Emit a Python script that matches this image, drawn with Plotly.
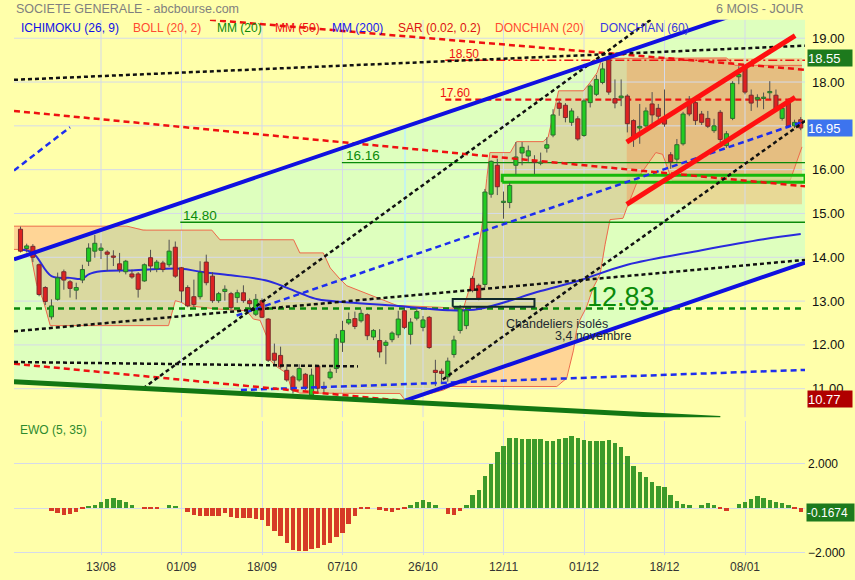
import numpy as np
import pandas as pd
import plotly.graph_objects as go

FONT = "Liberation Sans, Arial, sans-serif"

# ---------------- trading sessions (Euronext) ----------------
sessions = pd.bdate_range("2020-07-27", "2021-01-21")
sessions = sessions[~sessions.isin(pd.to_datetime(["2020-12-25", "2021-01-01"]))]
idx = np.arange(len(sessions))

tick_dates = ["2020-08-13", "2020-09-01", "2020-09-18", "2020-10-07", "2020-10-26",
              "2020-11-12", "2020-12-01", "2020-12-18", "2021-01-08"]
tick_labels = ["13/08", "01/09", "18/09", "07/10", "26/10", "12/11", "01/12", "18/12", "08/01"]

# ---------------- daily prices ----------------
opens = [14.64, 14.20, 14.25, 13.83, 13.31, 12.64, 13.04, 13.67, 13.44, 13.25,
         13.48, 13.91, 14.14, 14.16, 14.12, 14.03, 13.85, 13.67, 13.62, 13.62,
         13.46, 13.99, 13.74, 13.87, 13.83, 14.23, 13.76, 13.31, 13.10, 13.10,
         13.89, 13.57, 13.01, 13.22, 13.17, 13.08, 13.19, 13.01, 12.70, 13.01,
         12.59, 11.81, 11.76, 11.42, 11.27, 11.20, 11.33, 10.85, 11.52, 11.04,
         11.25, 11.46, 12.06, 12.50, 12.60, 12.55, 12.69, 12.18, 12.10, 11.99,
         12.12, 12.23, 12.78, 12.24, 12.61, 12.40, 12.63, 11.42, 11.40, 11.27,
         11.78, 12.33, 12.44, 13.52, 13.36, 13.38, 15.44, 16.10, 15.25, 15.25,
         16.10, 16.38, 16.31, 16.19, 16.15, 16.49, 16.79, 17.52, 17.47, 17.08,
         17.16, 16.78, 17.53, 17.72, 17.99, 18.51, 17.62, 17.64, 17.68, 17.12,
         16.95, 17.00, 17.50, 17.40, 17.19, 16.34, 16.24, 16.59, 17.55, 17.53,
         17.27, 17.17, 16.89, 17.31, 16.55, 17.17, 18.12, 18.36, 17.70, 17.61,
         17.63, 17.76, 17.70, 17.17, 17.57, 17.00, 17.14]
highs = [14.70, 14.31, 14.30, 13.86, 13.34, 13.04, 13.65, 13.72, 13.48, 13.42,
         13.83, 14.32, 14.51, 14.32, 14.16, 14.16, 14.10, 13.94, 13.72, 13.66,
         13.86, 14.17, 13.94, 13.92, 14.40, 14.36, 13.78, 13.36, 13.49, 13.91,
         14.06, 13.66, 13.21, 13.36, 13.21, 13.26, 13.36, 13.06, 13.16, 13.06,
         12.61, 12.03, 11.96, 11.56, 11.31, 11.56, 11.36, 11.46, 11.54, 11.16,
         11.46, 12.25, 12.55, 12.74, 12.76, 12.81, 12.72, 12.36, 12.36, 12.11,
         12.31, 12.78, 12.86, 12.61, 12.86, 12.66, 12.66, 11.66, 11.46, 11.71,
         12.21, 12.91, 12.81, 13.57, 13.40, 15.56, 16.21, 16.25, 15.50, 15.70,
         16.63, 16.63, 16.55, 16.33, 16.39, 16.74, 17.38, 17.57, 17.52, 17.40,
         17.22, 17.62, 17.95, 18.16, 18.44, 18.55, 18.06, 18.06, 17.72, 17.15,
         17.50, 17.42, 17.77, 17.50, 17.83, 16.40, 16.70, 17.32, 17.68, 17.58,
         17.34, 17.34, 17.16, 17.36, 16.88, 18.02, 18.36, 18.40, 17.83, 17.72,
         17.76, 18.02, 17.83, 17.45, 17.62, 17.14, 17.20]
lows = [14.11, 14.11, 13.89, 13.11, 12.91, 12.58, 13.01, 13.26, 13.08, 13.04,
        13.41, 13.80, 13.99, 13.96, 13.69, 13.80, 13.65, 13.61, 13.51, 13.08,
        13.44, 13.66, 13.66, 13.66, 13.78, 13.53, 12.97, 12.86, 12.86, 13.04,
        13.36, 12.96, 12.96, 13.01, 12.81, 12.96, 12.96, 12.86, 12.66, 12.61,
        11.61, 11.56, 11.46, 11.16, 10.89, 11.16, 10.96, 10.81, 10.91, 10.91,
        11.21, 11.36, 11.84, 12.46, 12.36, 12.51, 12.11, 12.11, 11.71, 11.56,
        12.06, 12.16, 12.36, 12.01, 12.56, 12.31, 11.91, 11.06, 11.11, 11.16,
        11.71, 12.26, 12.36, 13.20, 13.02, 13.31, 15.36, 15.42, 14.88, 15.12,
        15.89, 16.10, 16.18, 15.90, 16.10, 16.39, 16.74, 17.23, 17.08, 17.00,
        16.66, 16.75, 17.42, 17.68, 17.95, 17.71, 17.40, 17.45, 16.85, 16.52,
        16.59, 16.97, 17.04, 17.04, 16.98, 16.02, 16.18, 16.55, 17.22, 17.02,
        17.02, 16.95, 16.84, 16.63, 16.50, 17.13, 17.95, 17.72, 17.34, 17.42,
        17.38, 17.61, 17.34, 17.12, 16.95, 16.95, 16.90]
closes = [14.14, 14.26, 14.00, 13.15, 12.99, 12.89, 13.53, 13.48, 13.29, 13.31,
          13.72, 14.21, 14.32, 14.21, 14.07, 14.00, 13.72, 13.91, 13.55, 13.27,
          13.83, 13.80, 13.89, 13.72, 14.14, 13.57, 13.23, 12.89, 12.92, 13.65,
          13.42, 13.01, 13.17, 13.27, 12.85, 13.19, 13.01, 12.94, 13.04, 12.63,
          11.65, 11.65, 11.50, 11.20, 10.97, 11.46, 11.01, 11.31, 11.01, 11.01,
          11.38, 12.14, 12.33, 12.58, 12.42, 12.72, 12.21, 12.33, 11.84, 12.06,
          12.27, 12.59, 12.40, 12.52, 12.76, 12.57, 11.94, 11.37, 11.35, 11.63,
          12.11, 12.82, 12.78, 13.24, 13.07, 15.49, 16.19, 15.61, 15.28, 15.64,
          16.29, 16.51, 16.43, 16.17, 16.17, 16.57, 17.25, 17.40, 17.19, 17.34,
          16.70, 17.57, 17.91, 18.06, 18.30, 17.77, 17.52, 17.68, 17.05, 16.70,
          16.99, 17.34, 17.25, 17.22, 17.04, 16.18, 16.57, 17.27, 17.27, 17.12,
          17.08, 16.99, 17.00, 16.69, 16.82, 17.97, 18.17, 17.77, 17.52, 17.65,
          17.65, 17.78, 17.38, 17.40, 16.99, 17.08, 16.95]

# moving average, sampled sessions
ma_idx = [0, 2, 5, 8, 10, 11, 13, 18, 26, 29, 34, 40, 45, 48, 53, 61, 69, 74, 84, 90, 98, 110, 120, 126]
ma_val = [14.17, 14.10, 13.57, 13.53, 13.51, 13.61, 13.68, 13.70, 13.74, 13.67, 13.59, 13.46,
          13.19, 13.04, 12.97, 12.89, 12.79, 12.82, 13.23, 13.46, 13.83, 14.16, 14.41, 14.53]

# channel envelope (upper / lower bounds)
env_up_x = [-1.05, 17.2, 19.8, 30.9, 32.2, 44.1, 45.1, 48.9, 50.0, 51.6, 52.7, 55.4, 60.8, 67.7,
            71.5, 73.1, 74.5, 75.3, 75.8, 79.1, 80.1, 84.4, 85.2, 86.0, 86.9, 90.9, 92.0, 93.1,
            93.9, 114.0, 115.4, 126.2]
env_up_p = [14.71, 14.71, 14.62, 14.62, 14.40, 14.40, 14.10, 14.10, 13.76, 13.50, 13.35, 13.20,
            12.90, 12.86, 12.82, 13.57, 14.67, 15.80, 16.39, 16.39, 16.64, 16.64, 16.74, 17.23,
            17.80, 17.80, 17.99, 18.21, 18.54, 18.55, 18.38, 18.38]
env_lo_x = [-1.05, 1.5, 2.6, 3.7, 4.8, 23.9, 25.0, 26.0, 26.8, 31.7, 36.5, 37.6, 38.7, 39.8, 40.3,
            41.4, 43.0, 43.8, 45.1, 61.3, 62.1, 68.3, 69.4, 86.6, 88.2, 89.3, 89.8, 90.3, 91.4,
            92.5, 93.6, 94.4, 95.2, 97.3, 97.9, 100.0, 102.6, 103.7, 105.2, 124.3, 126.2]
env_lo_p = [14.18, 14.18, 13.38, 13.01, 12.44, 12.44, 13.01, 12.97, 12.90, 12.82, 12.78, 12.59,
            12.56, 12.18, 11.65, 11.50, 11.35, 10.97, 10.90, 10.89, 10.74, 10.97, 11.05, 11.05,
            11.24, 11.88, 12.33, 12.56, 12.86, 13.31, 13.61, 14.29, 14.86, 14.89, 15.12, 15.87,
            16.39, 16.35, 15.76, 15.76, 16.52]

# Elliott wave oscillator (5, 35), from session 5 onwards
ewo_start = 5
ewo = [-0.12, -0.24, -0.30, -0.27, -0.17, -0.05, 0.09, 0.14, 0.26, 0.41, 0.46, 0.38, 0.27, 0.15,
       0.00, -0.03, -0.03, -0.03, 0.00, 0.12, 0.09, 0.00, -0.17, -0.30, -0.38, -0.38, -0.38, -0.34,
       -0.24, -0.40, -0.46, -0.44, -0.44, -0.49, -0.55, -0.79, -1.02, -1.25, -1.59, -1.89, -1.91,
       -1.91, -1.86, -1.79, -1.66, -1.56, -1.31, -1.10, -0.70, -0.38, -0.05, -0.03, 0.00, -0.08,
       -0.12, -0.17, -0.09, -0.05, 0.12, 0.27, 0.38, 0.29, 0.15, 0.00, -0.26, -0.30, -0.12, 0.14,
       0.58, 0.82, 1.42, 1.98, 2.50, 2.76, 3.16, 3.16, 3.10, 3.11, 3.11, 3.08, 2.99, 3.02, 3.10,
       3.15, 3.21, 3.13, 3.05, 2.99, 2.99, 2.99, 3.04, 2.90, 2.72, 2.32, 1.88, 1.62, 1.40, 1.16,
       1.00, 0.96, 0.60, 0.32, 0.20, 0.12, 0.00, 0.12, 0.23, 0.15, -0.05, -0.14, 0.00, 0.18, 0.29,
       0.41, 0.55, 0.44, 0.35, 0.29, 0.21, 0.12, -0.06, -0.1674]

# ---------------- drawn lines: (session index, price) ----------------
channel_top = [(-1.05, 13.95), (126.69, 20.08)]
channel_bottom = [(62.1, 10.73), (126.69, 13.88)]
support_green = [(-1.05, 11.16), (113.0, 10.32)]
black_dotted = [
    [(19.8, 11.01), (103.3, 19.58)],
    [(-1.05, 12.31), (126.69, 13.94)],
    [(-1.05, 11.61), (54.5, 11.51)],
    [(-1.05, 18.05), (126.69, 18.83)],
    [(68.2, 11.21), (126.69, 17.11)],
]
red_dashed = [
    [(-1.05, 17.34), (126.69, 15.62)],
    [(-1.05, 11.57), (62.1, 10.72)],
    [(30.6, 19.42), (126.69, 18.28)],
]
blue_dashed = [
    [(-1.05, 15.98), (8.0, 16.97)],
    [(34.9, 12.67), (126.69, 17.11)],
    [(35.6, 10.97), (126.69, 11.43)],
]
red_channel = [
    [(97.9, 16.63), (125.1, 19.06)],
    [(97.9, 15.21), (125.1, 17.65)],
]
level_1760 = (68.6, 17.60)
level_1850 = (68.6, 18.50)
level_1616 = (51.9, 16.16)
level_1480 = (25.8, 14.80)
level_1283 = (-1.05, 12.83)
gap_box = (69.8, 83.0, 12.87, 13.05)
support_box = (77.8, 126.69, 15.71, 15.87)
target_zone = (97.9, 126.2, 15.21, 18.55)
marker_session = 62.1

value_tags = [(18.55, "#1D7A1D"), (16.95, "#3D74EE"), (10.77, "#B00000")]
ewo_last = -0.1674

X0, X1 = -1.05, 126.69
Y0, Y1 = 10.346, 19.42

YELLOW = "#FFFFAA"
GREEN_BG = "#DEFFBE"
ORANGE = "#FFD596"
KHAKI = "#DAD9A0"
GRID = "#D5DAEA"


def line_at(pts, x):
    (xa, ya), (xb, yb) = pts
    return ya + (yb - ya) * (np.asarray(x, dtype=float) - xa) / (xb - xa)


def seg(pts):
    return [p[0] for p in pts], [p[1] for p in pts]


fig = go.Figure()
XY = dict(xaxis="x", yaxis="y", hoverinfo="skip", showlegend=False)

# trend channel background
xs = np.linspace(X0, X1, 800)
ch_top = line_at(channel_top, xs)
ch_bot = np.maximum(line_at(support_green, xs), line_at(channel_bottom, xs))
fig.add_trace(go.Scatter(x=np.concatenate([xs, xs[::-1]]), y=np.concatenate([ch_top, ch_bot[::-1]]),
                         fill="toself", fillcolor=GREEN_BG, line=dict(width=0), mode="lines", **XY))

# envelope fill (orange), and its part inside the channel (khaki)
xd = np.unique(np.concatenate([np.linspace(env_up_x[0], env_up_x[-1], 1500), env_up_x, env_lo_x]))
eu = np.interp(xd, env_up_x, env_up_p)
el = np.interp(xd, env_lo_x, env_lo_p)
fig.add_trace(go.Scatter(x=np.concatenate([xd, xd[::-1]]), y=np.concatenate([eu, el[::-1]]),
                         fill="toself", fillcolor=ORANGE, line=dict(width=0), mode="lines", **XY))
ku = np.minimum(eu, line_at(channel_top, xd))
kl = np.maximum(el, np.maximum(line_at(support_green, xd), line_at(channel_bottom, xd)))
ku = np.maximum(ku, kl)
fig.add_trace(go.Scatter(x=np.concatenate([xd, xd[::-1]]), y=np.concatenate([ku, kl[::-1]]),
                         fill="toself", fillcolor=KHAKI, line=dict(width=0), mode="lines", **XY))

# target zone
tx0, tx1, ty0, ty1 = target_zone
fig.add_trace(go.Scatter(x=[tx0, tx1, tx1, tx0, tx0], y=[ty0, ty0, ty1, ty1, ty0], fill="toself",
                         fillcolor="rgba(255,130,60,0.30)", line=dict(width=0), mode="lines", **XY))

# grid
tick_idx = [int(np.where(sessions == pd.Timestamp(d))[0][0]) for d in tick_dates]
for t in tick_idx:
    fig.add_trace(go.Scatter(x=[t, t], y=[Y0, Y1], mode="lines", line=dict(color=GRID, width=1), **XY))
for p in range(11, 20):
    fig.add_trace(go.Scatter(x=[X0, X1], y=[p, p], mode="lines", line=dict(color=GRID, width=1), **XY))

# session marker
fig.add_trace(go.Scatter(x=[marker_session, marker_session],
                         y=[float(line_at(channel_bottom, marker_session)), float(line_at(channel_top, marker_session))],
                         mode="lines", line=dict(color="#C4F4EE", width=2), **XY))

# envelope bounds
fig.add_trace(go.Scatter(x=env_up_x, y=env_up_p, mode="lines", line=dict(color="#EC6A4C", width=1), **XY))
fig.add_trace(go.Scatter(x=env_lo_x, y=env_lo_p, mode="lines", line=dict(color="#EC6A4C", width=1), **XY))

# horizontal levels
for (lx, lv) in [level_1616, level_1480]:
    fig.add_trace(go.Scatter(x=[lx, X1], y=[lv, lv], mode="lines", line=dict(color="#0A8A0A", width=1.3), **XY))
fig.add_trace(go.Scatter(x=[level_1283[0], X1], y=[level_1283[1]] * 2, mode="lines",
                         line=dict(color="#0B880B", width=2.5, dash="6px,5px"), **XY))
fig.add_trace(go.Scatter(x=[level_1760[0], X1], y=[level_1760[1]] * 2, mode="lines",
                         line=dict(color="#EE1111", width=2.2, dash="6px,4px"), **XY))
fig.add_trace(go.Scatter(x=[level_1850[0], X1], y=[level_1850[1]] * 2, mode="lines",
                         line=dict(color="#EE1111", width=1.5, dash="9px,3px,2px,3px"), **XY))

# support box
sx0, sx1, sy0, sy1 = support_box
fig.add_trace(go.Scatter(x=[sx0, sx1, sx1, sx0, sx0], y=[sy0, sy0, sy1, sy1, sy0], fill="toself",
                         fillcolor="rgba(190,245,150,0.55)", mode="lines",
                         line=dict(color="#16B80A", width=3), **XY))

# moving average
fig.add_trace(go.Scatter(x=ma_idx, y=ma_val, mode="lines", line=dict(color="#2A2ADD", width=2, shape="spline"), **XY))

# candlesticks: wicks, then bodies (rectangles built from open/close)
HALF = 0.33
wx, wy = [], []
for i in idx:
    wx += [i, i, None]
    wy += [lows[i], highs[i], None]
fig.add_trace(go.Scatter(x=wx, y=wy, mode="lines", line=dict(color="#505050", width=1), **XY))


def bodies(up):
    bx, by = [], []
    for i in idx:
        o, c = opens[i], closes[i]
        if (c >= o) != up:
            continue
        lo, hi = min(o, c), max(o, c)
        if hi - lo < 0.03:
            mid = (hi + lo) / 2
            lo, hi = mid - 0.015, mid + 0.015
        bx += [i - HALF, i + HALF, i + HALF, i - HALF, i - HALF, None]
        by += [lo, lo, hi, hi, lo, None]
    return bx, by


bx, by = bodies(True)
fig.add_trace(go.Scatter(x=bx, y=by, mode="lines", fill="toself", fillcolor="#22CC22",
                         line=dict(color="#2E6E2E", width=1), **XY))
bx, by = bodies(False)
fig.add_trace(go.Scatter(x=bx, y=by, mode="lines", fill="toself", fillcolor="#DD2222",
                         line=dict(color="#7A2C2C", width=1), **XY))

# gap box
gx0, gx1, gy0, gy1 = gap_box
fig.add_trace(go.Scatter(x=[gx0, gx1, gx1, gx0, gx0], y=[gy0, gy0, gy1, gy1, gy0], mode="lines",
                         line=dict(color="#0F2A2A", width=2), **XY))

# dashed / dotted trend lines
for pts in blue_dashed:
    x, y = seg(pts)
    fig.add_trace(go.Scatter(x=x, y=y, mode="lines", line=dict(color="#1E2EEE", width=2.5, dash="6px,4px"), **XY))
for pts in red_dashed:
    x, y = seg(pts)
    fig.add_trace(go.Scatter(x=x, y=y, mode="lines", line=dict(color="#EE1111", width=2.5, dash="6px,4px"), **XY))
for pts in black_dotted:
    x, y = seg(pts)
    fig.add_trace(go.Scatter(x=x, y=y, mode="lines", line=dict(color="#111111", width=2.5, dash="4px,3px"), **XY))

# solid channel lines
for pts in [channel_top, channel_bottom]:
    x, y = seg(pts)
    fig.add_trace(go.Scatter(x=x, y=y, mode="lines", line=dict(color="#1010E0", width=4), **XY))
x, y = seg(support_green)
fig.add_trace(go.Scatter(x=x, y=y, mode="lines", line=dict(color="#137713", width=5), **XY))
for pts in red_channel:
    x, y = seg(pts)
    fig.add_trace(go.Scatter(x=x, y=y, mode="lines", line=dict(color="#FF1010", width=5), **XY))

# EWO histogram
ewo_x = list(range(ewo_start, ewo_start + len(ewo)))
fig.add_trace(go.Bar(x=ewo_x, y=ewo, marker=dict(color=["#3C9A2A" if v >= 0 else "#D63A26" for v in ewo], line=dict(width=0)),
                     width=0.72, xaxis="x2", yaxis="y2", hoverinfo="skip", showlegend=False))

# ---------------- layout ----------------
W, H = 855, 580
px_x = lambda v: v / W
px_y = lambda v: 1 - v / H

xdom = [px_x(14), px_x(805)]
fig.update_layout(
    width=W, height=H, margin=dict(l=0, r=0, t=0, b=0),
    paper_bgcolor=YELLOW, plot_bgcolor=YELLOW,
    font=dict(family=FONT, size=12, color="#111"),
    bargap=0,
    xaxis=dict(domain=xdom, range=[X0, X1], showgrid=False, zeroline=False, showticklabels=False,
               anchor="y", fixedrange=True),
    yaxis=dict(domain=[px_y(421), px_y(20)], range=[Y0, Y1], side="right", showgrid=False, zeroline=False,
               tickvals=list(range(11, 20)), tickformat=".2f", ticks="", ticklabelstandoff=6,
               tickfont=dict(size=13, color="#111"), anchor="x"),
    xaxis2=dict(domain=xdom, range=[X0, X1], showgrid=True, gridcolor=GRID, zeroline=False,
                tickvals=tick_idx, ticktext=tick_labels, ticks="", ticklabelstandoff=3,
                tickfont=dict(size=12, color="#333"), anchor="y2"),
    yaxis2=dict(domain=[px_y(560), px_y(425)], range=[-2.10, 3.90], side="right", showgrid=True,
                gridcolor=GRID, zeroline=True, zerolinecolor=GRID, zerolinewidth=1,
                tickvals=[-2, 2], tickformat=".3f", ticks="", ticklabelstandoff=2,
                tickfont=dict(size=12, color="#111"), anchor="x2"),
)

ann = []
def txt(x, y, s, color, size, xref="paper", yref="paper", xanchor="left", **kw):
    ann.append(dict(x=x, y=y, xref=xref, yref=yref, text=s, showarrow=False, xanchor=xanchor,
                    yanchor="middle", font=dict(family=FONT, size=size, color=color), **kw))

txt(px_x(14), px_y(9), "SOCIETE GENERALE - abcbourse.com", "#7F7F7F", 12.5)
txt(px_x(806), px_y(9), "6 MOIS - JOUR", "#7F7F7F", 12.5, xanchor="right")

legend_items = [(19, "ICHIMOKU (26, 9)", "#1010E8"), (131, "BOLL (20, 2)", "#FF4A30"),
                (215, "MM (20)", "#0A880A"), (273, "MM (50)", "#EE1010"), (330, "MM (200)", "#1818EE"),
                (396, "SAR (0.02, 0.2)", "#DD1010"), (493, "DONCHIAN (20)", "#FF4A30"),
                (598, "DONCHIAN (60)", "#3A3AE0")]
for lx, s, c in legend_items:
    txt(px_x(lx), px_y(28), s, c, 12)

# level labels
txt(level_1850[0] + 0.2, level_1850[1] + 0.15, "18.50", "#EE1111", 12, xref="x", yref="y")
txt(level_1760[0] - 1.2, level_1760[1] + 0.15, "17.60", "#EE1111", 12, xref="x", yref="y")
txt(level_1616[0] + 0.4, level_1616[1] + 0.17, "16.16", "#0A8A0A", 13.5, xref="x", yref="y")
txt(level_1480[0] + 0.1, level_1480[1] + 0.15, "14.80", "#0A8A0A", 13.5, xref="x", yref="y")
txt(91.2, level_1283[1] + 0.27, "12.83", "#0A8A0A", 27, xref="x", yref="y")
txt(78.0, 12.48, "Chandeliers isolés", "#1E2A33", 12.5, xref="x", yref="y")
txt(86.0, 12.21, "3,4 novembre", "#1E2A33", 12.5, xref="x", yref="y")
txt(px_x(18), px_y(434), "EWO (5, 35)", "#2E8A2E", 12)

# value tags on the right scale
for v, c in value_tags:
    ann.append(dict(x=px_x(807), y=v, xref="paper", yref="y", text=f"{v:.2f}", showarrow=False,
                    xanchor="left", yanchor="middle", bgcolor=c, width=44, height=16, align="left",
                    borderpad=0, font=dict(family=FONT, size=13, color="white")))
ann.append(dict(x=px_x(806), y=ewo_last, xref="paper", yref="y2", text=f"{ewo_last:.4f}", showarrow=False,
                xanchor="left", yanchor="middle", bgcolor="#1D7A1D", width=47, height=17, align="left",
                borderpad=0, font=dict(family=FONT, size=12, color="white")))

fig.update_layout(annotations=ann)
fig.write_html("out.html")
